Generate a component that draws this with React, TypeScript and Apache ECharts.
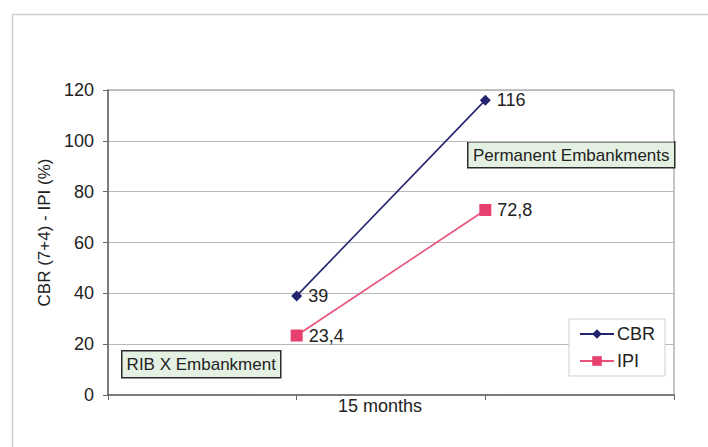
import React, { useEffect, useRef } from "react";
import * as echarts from "echarts";

const slotLabels = ["", "15 months", ""];
const xPositions = [1, 2];
const cbrValues = [39, 116];
const ipiValues = [23.4, 72.8];
const yTicks = { min: 0, max: 120, interval: 20 };
const annotations = ["Permanent Embankments", "RIB X Embankment"];

const FONT = "'Liberation Sans', Arial, sans-serif";

export default function App() {
  const ref = useRef<HTMLDivElement>(null);
  useEffect(() => {
    if (!ref.current) return;
    const chart = echarts.init(ref.current, undefined, { renderer: "svg" });
    const fmt = (p: any) => String(p.value[1]).replace(".", ",");
    const lbl = {
      show: true,
      position: "right",
      distance: 6,
      formatter: fmt,
      fontFamily: FONT,
      fontSize: 18,
      color: "#222",
    };
    chart.setOption({
      animation: false,
      backgroundColor: "#fff",
      textStyle: { fontFamily: FONT },
      grid: {
        left: 108,
        right: 34,
        top: 90,
        bottom: 52,
        show: true,
        borderColor: "#8a8a8a",
        borderWidth: 1,
      },
      xAxis: [
        {
          type: "value",
          min: 0,
          max: 3,
          interval: 1,
          show: false,
        },
        {
          type: "category",
          data: slotLabels,
          boundaryGap: true,
          position: "bottom",
          axisLine: { show: true, lineStyle: { color: "#666", width: 1.5 } },
          axisTick: { show: true, length: 5, lineStyle: { color: "#666" } },
          axisLabel: {
            fontFamily: FONT,
            fontSize: 18,
            color: "#222",
            margin: 2,
            padding: [0, 22, 0, 0],
          },
          splitLine: { show: false },
        },
      ],
      yAxis: {
        type: "value",
        min: yTicks.min,
        max: yTicks.max,
        interval: yTicks.interval,
        name: "CBR (7+4) - IPI (%)",
        nameLocation: "middle",
        nameRotate: 90,
        nameGap: 52,
        nameTextStyle: {
          fontFamily: FONT,
          fontSize: 17,
          color: "#222",
          padding: [0, 0, 0, 20],
        },
        axisLine: { show: true, lineStyle: { color: "#666", width: 1.5 } },
        axisTick: { show: true, length: 5, lineStyle: { color: "#666" } },
        axisLabel: { fontFamily: FONT, fontSize: 18, color: "#222", margin: 14 },
        splitLine: { show: true, lineStyle: { color: "#b8b8b8", width: 1.2 } },
      },
      legend: {
        orient: "vertical",
        right: 43,
        top: 319,
        itemGap: 9,
        itemWidth: 34,
        itemHeight: 12,
        padding: [6, 10, 6, 10],
        backgroundColor: "#fff",
        borderColor: "#cfcfcf",
        borderWidth: 1,
        textStyle: { fontFamily: FONT, fontSize: 18, color: "#222", padding: [0, 0, 0, -2] },
        data: ["CBR", "IPI"],
      },
      series: [
        {
          name: "CBR",
          type: "line",
          xAxisIndex: 0,
          data: xPositions.map((x, i) => [x, cbrValues[i]]),
          symbol: "diamond",
          symbolSize: 11,
          lineStyle: { color: "#24246e", width: 1.6 },
          itemStyle: { color: "#24246e" },
          label: lbl,
        },
        {
          name: "IPI",
          type: "line",
          xAxisIndex: 0,
          data: xPositions.map((x, i) => [x, ipiValues[i]]),
          symbol: "rect",
          symbolSize: 12,
          lineStyle: { color: "#e8517a", width: 1.6 },
          itemStyle: { color: "#e8406e" },
          label: lbl,
        },
      ],
      graphic: [
        {
          type: "rect",
          left: 10,
          top: 12,
          shape: { width: 720, height: 460 },
          style: { fill: "none", stroke: "#cfcfcf", lineWidth: 1.5 },
          silent: true,
        },
        {
          type: "group",
          left: 467,
          top: 141,
          children: [
            {
              type: "rect",
              shape: { x: 0, y: 0, width: 207, height: 26 },
              style: { fill: "#e4f1e2", stroke: "#2b2b2b", lineWidth: 1.5 },
            },
            {
              type: "text",
              x: 103.5,
              y: 13.5,
              style: {
                text: annotations[0],
                fontFamily: FONT,
                fontSize: 17,
                fill: "#222",
                align: "center",
                verticalAlign: "middle",
              },
            },
          ],
        },
        {
          type: "group",
          left: 121,
          top: 350,
          children: [
            {
              type: "rect",
              shape: { x: 0, y: 0, width: 159, height: 27 },
              style: { fill: "#e4f1e2", stroke: "#2b2b2b", lineWidth: 1.5 },
            },
            {
              type: "text",
              x: 79.5,
              y: 14,
              style: {
                text: annotations[1],
                fontFamily: FONT,
                fontSize: 17,
                fill: "#222",
                align: "center",
                verticalAlign: "middle",
              },
            },
          ],
        },
      ],
    });
    return () => chart.dispose();
  }, []);
  return (
    <div
      ref={ref}
      style={{ position: "fixed", left: 0, top: 0, width: 708, height: 447 }}
    />
  );
}
